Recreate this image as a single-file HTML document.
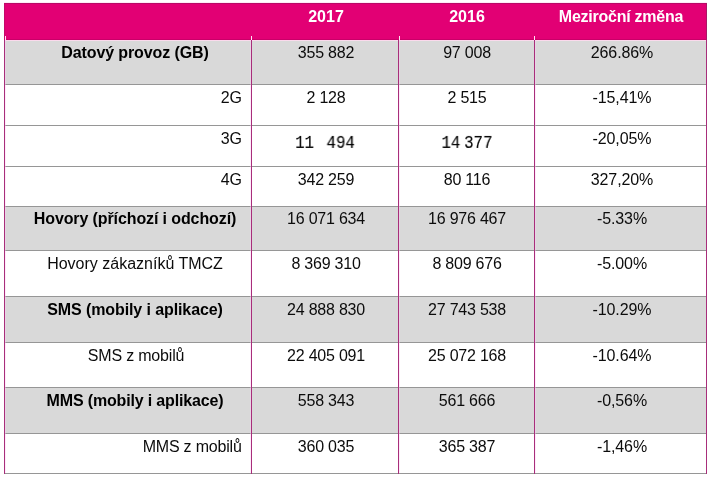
<!DOCTYPE html>
<html><head><meta charset="utf-8"><title>table</title>
<style>
html,body{margin:0;padding:0;background:#fff;}
body{width:711px;height:479px;position:relative;overflow:hidden;font-family:"Liberation Sans",sans-serif;font-size:16px;color:#0c0c0c;}
.b{position:absolute;}
.t{position:absolute;white-space:nowrap;line-height:18px;height:18px;transform:translateX(-50%);will-change:transform;}
.r{position:absolute;white-space:nowrap;line-height:18px;height:18px;text-align:right;will-change:transform;}
.bold{font-weight:bold;color:#000;}
.h{color:#fff;font-weight:bold;}
</style></head><body>

<div class="b" style="left:4px;top:3px;width:703px;height:37px;background:#e20074"></div>
<div class="b" style="left:4px;top:2px;width:703px;height:1px;background:#ffeaf6"></div>
<div class="b" style="left:4px;top:3px;width:703px;height:1px;background:#b80a66"></div>
<div class="b" style="left:4px;top:39px;width:703px;height:1px;background:#c90068"></div>
<div class="b" style="left:4px;top:3px;width:1px;height:37px;background:#c4086a"></div>
<div class="b" style="left:706px;top:3px;width:1px;height:37px;background:#a81866"></div>
<div class="b" style="left:4px;top:40px;width:703px;height:45px;background:#d9d9d9"></div>
<div class="b" style="left:4px;top:85px;width:703px;height:41px;background:#fff"></div>
<div class="b" style="left:4px;top:126px;width:703px;height:41px;background:#fff"></div>
<div class="b" style="left:4px;top:167px;width:703px;height:40px;background:#fff"></div>
<div class="b" style="left:4px;top:207px;width:703px;height:44px;background:#d9d9d9"></div>
<div class="b" style="left:4px;top:251px;width:703px;height:46px;background:#fff"></div>
<div class="b" style="left:4px;top:297px;width:703px;height:46px;background:#d9d9d9"></div>
<div class="b" style="left:4px;top:343px;width:703px;height:45px;background:#fff"></div>
<div class="b" style="left:4px;top:388px;width:703px;height:46px;background:#d9d9d9"></div>
<div class="b" style="left:4px;top:434px;width:703px;height:40px;background:#fff"></div>
<div class="b" style="left:5px;top:40px;width:701px;height:1px;background:#fbd9ec"></div>
<div class="b" style="left:4px;top:84px;width:703px;height:1px;background:#969696"></div>
<div class="b" style="left:4px;top:125px;width:703px;height:1px;background:#969696"></div>
<div class="b" style="left:4px;top:166px;width:703px;height:1px;background:#969696"></div>
<div class="b" style="left:4px;top:206px;width:703px;height:1px;background:#969696"></div>
<div class="b" style="left:4px;top:250px;width:703px;height:1px;background:#969696"></div>
<div class="b" style="left:4px;top:296px;width:703px;height:1px;background:#969696"></div>
<div class="b" style="left:4px;top:342px;width:703px;height:1px;background:#969696"></div>
<div class="b" style="left:4px;top:387px;width:703px;height:1px;background:#969696"></div>
<div class="b" style="left:4px;top:433px;width:703px;height:1px;background:#969696"></div>
<div class="b" style="left:4px;top:473px;width:703px;height:1px;background:#969696"></div>
<div class="b" style="left:4px;top:40px;width:1px;height:434px;background:#a82e7a"></div>
<div class="b" style="left:251px;top:40px;width:1px;height:434px;background:#a82e7a"></div>
<div class="b" style="left:398px;top:40px;width:1px;height:434px;background:#a82e7a"></div>
<div class="b" style="left:534px;top:40px;width:1px;height:434px;background:#a82e7a"></div>
<div class="b" style="left:706px;top:40px;width:1px;height:434px;background:#a82e7a"></div>
<div class="b" style="left:5px;top:40px;width:1px;height:433px;background:rgba(255,205,245,0.4)"></div>
<div class="b" style="left:5px;top:36px;width:1px;height:4px;background:#ffe3f3"></div>
<div class="b" style="left:250px;top:40px;width:1px;height:433px;background:rgba(255,205,245,0.4)"></div>
<div class="b" style="left:251px;top:36px;width:1px;height:4px;background:#ffe3f3"></div>
<div class="b" style="left:399px;top:40px;width:1px;height:433px;background:rgba(255,205,245,0.4)"></div>
<div class="b" style="left:399px;top:36px;width:1px;height:4px;background:#ffe3f3"></div>
<div class="b" style="left:535px;top:40px;width:1px;height:433px;background:rgba(255,205,245,0.4)"></div>
<div class="b" style="left:534px;top:36px;width:1px;height:4px;background:#ffe3f3"></div>
<div class="t h" style="left:325.5px;top:8px;letter-spacing:0px">2017</div>
<div class="t h" style="left:467px;top:8px;letter-spacing:0px">2016</div>
<div class="t h" style="left:620.5px;top:8px;letter-spacing:-0.25px">Meziroční změna</div>
<div class="t bold" style="left:134.5px;top:44px;letter-spacing:-0.1px;">Datový provoz (GB)</div>
<div class="t" style="left:326px;top:44px;letter-spacing:-0.22px;">355 882</div>
<div class="t" style="left:467px;top:44px;letter-spacing:-0.22px;">97 008</div>
<div class="t" style="left:621.5px;top:44px;letter-spacing:-0.1px;">266.86%</div>
<div class="r" style="left:4px;width:238px;top:89px;">2G</div>
<div class="t" style="left:326px;top:89px;letter-spacing:-0.22px;">2 128</div>
<div class="t" style="left:467px;top:89px;letter-spacing:-0.22px;">2 515</div>
<div class="t" style="left:621.5px;top:89px;letter-spacing:-0.1px;">-15,41%</div>
<div class="r" style="left:4px;width:238px;top:130px;">3G</div>
<div class="t" style="left:324.75px;top:135px;font-family:'Liberation Mono',monospace;color:#000;-webkit-text-stroke:0.12px #000;transform:translateX(-50%) scale(0.985,1.117);transform-origin:50% 100%;word-spacing:3px;">11 494</div>
<div class="t" style="left:467px;top:135px;font-family:'Liberation Mono',monospace;color:#000;-webkit-text-stroke:0.12px #000;transform:translateX(-50%) scale(0.985,1.117);transform-origin:50% 100%;word-spacing:-5.8px;">14 377</div>
<div class="t" style="left:621.5px;top:130px;letter-spacing:-0.1px;">-20,05%</div>
<div class="r" style="left:4px;width:238px;top:171px;">4G</div>
<div class="t" style="left:326px;top:171px;letter-spacing:-0.22px;">342 259</div>
<div class="t" style="left:467px;top:171px;letter-spacing:-0.22px;">80 116</div>
<div class="t" style="left:621.5px;top:171px;letter-spacing:-0.1px;">327,20%</div>
<div class="t bold" style="left:134.5px;top:210px;letter-spacing:-0.11px;">Hovory (příchozí i odchozí)</div>
<div class="t" style="left:326px;top:210px;letter-spacing:-0.22px;">16 071 634</div>
<div class="t" style="left:467px;top:210px;letter-spacing:-0.22px;">16 976 467</div>
<div class="t" style="left:621.5px;top:210px;letter-spacing:-0.1px;">-5.33%</div>
<div class="t" style="left:134.5px;top:255px;">Hovory zákazníků TMCZ</div>
<div class="t" style="left:326px;top:255px;letter-spacing:-0.22px;">8 369 310</div>
<div class="t" style="left:467px;top:255px;letter-spacing:-0.22px;">8 809 676</div>
<div class="t" style="left:621.5px;top:255px;letter-spacing:-0.1px;">-5.00%</div>
<div class="t bold" style="left:134.5px;top:301px;letter-spacing:-0.1px;">SMS (mobily i aplikace)</div>
<div class="t" style="left:326px;top:301px;letter-spacing:-0.22px;">24 888 830</div>
<div class="t" style="left:467px;top:301px;letter-spacing:-0.22px;">27 743 538</div>
<div class="t" style="left:621.5px;top:301px;letter-spacing:-0.1px;">-10.29%</div>
<div class="t" style="left:136px;top:347px;letter-spacing:-0.19px;">SMS z mobilů</div>
<div class="t" style="left:326px;top:347px;letter-spacing:-0.22px;">22 405 091</div>
<div class="t" style="left:467px;top:347px;letter-spacing:-0.22px;">25 072 168</div>
<div class="t" style="left:621.5px;top:347px;letter-spacing:-0.1px;">-10.64%</div>
<div class="t bold" style="left:134.5px;top:392px;letter-spacing:-0.16px;">MMS (mobily i aplikace)</div>
<div class="t" style="left:326px;top:392px;letter-spacing:-0.22px;">558 343</div>
<div class="t" style="left:467px;top:392px;letter-spacing:-0.22px;">561 666</div>
<div class="t" style="left:621.5px;top:392px;letter-spacing:-0.1px;">-0,56%</div>
<div class="r" style="left:4px;width:237.6px;top:438px;letter-spacing:-0.2px;">MMS z mobilů</div>
<div class="t" style="left:326px;top:438px;letter-spacing:-0.22px;">360 035</div>
<div class="t" style="left:467px;top:438px;letter-spacing:-0.22px;">365 387</div>
<div class="t" style="left:621.5px;top:438px;letter-spacing:-0.1px;">-1,46%</div>
</body></html>
